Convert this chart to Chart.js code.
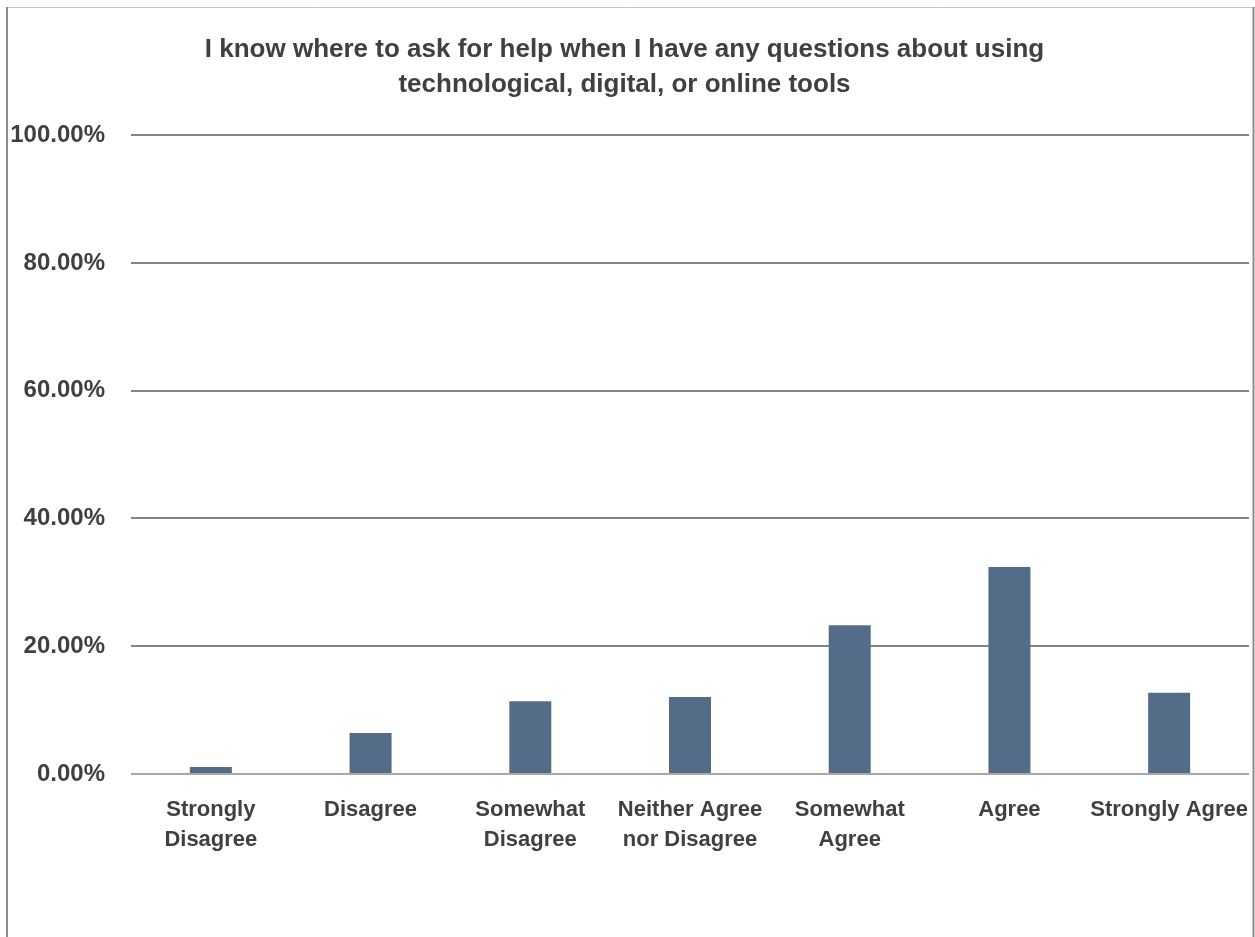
<!DOCTYPE html>
<html>
<head>
<meta charset="utf-8">
<script src="https://cdn.jsdelivr.net/npm/chart.js@4"></script>
<style>
  html, body { margin: 0; padding: 0; background: #fff; }
  #wrap { width: 1255px; height: 937px; position: relative; }
</style>
</head>
<body>
<div id="wrap"><canvas id="chart"></canvas></div>
<script>
// chart data
const categories = [
  ['Strongly', 'Disagree'],
  'Disagree',
  ['Somewhat', 'Disagree'],
  ['Neither Agree', 'nor Disagree'],
  ['Somewhat', 'Agree'],
  'Agree',
  'Strongly Agree'
];
const percents = [1.1, 6.4, 11.4, 12.05, 23.3, 32.4, 12.7];
const yTicks = [0, 20, 40, 60, 80, 100];
const titleLines = [
  'I know where to ask for help when I have any questions about using',
  'technological, digital, or online tools'
];

const FONT = '"Liberation Sans", Arial, sans-serif';
const TEXT = '#404040';

// outer frame like the exported chart box
const framePlugin = {
  id: 'frame',
  beforeDraw(chart) {
    const c = chart.ctx;
    c.save();
    c.fillStyle = '#fff';
    c.fillRect(0, 0, chart.width, chart.height);
    c.strokeStyle = '#c4c4c4';
    c.lineWidth = 1;
    c.beginPath();
    c.moveTo(7, 7.5); c.lineTo(1254, 7.5);
    c.stroke();
    c.strokeStyle = '#8c8c8c';
    c.lineWidth = 2;
    c.beginPath();
    c.moveTo(7, 7); c.lineTo(7, chart.height);
    c.moveTo(1253.5, 7); c.lineTo(1253.5, chart.height);
    c.stroke();
    c.restore();
  }
};

const ctx = document.getElementById('chart').getContext('2d');
new Chart(ctx, {
  type: 'bar',
  data: {
    labels: categories,
    datasets: [{
      data: percents,
      backgroundColor: '#536d89',
      barPercentage: 0.263,
      categoryPercentage: 1.0
    }]
  },
  options: {
    responsive: true,
    maintainAspectRatio: false,
    animation: false,
    layout: { padding: { left: 0, right: 6, top: 0, bottom: 0 } },
    plugins: {
      legend: { display: false },
      tooltip: { enabled: false },
      title: {
        display: true,
        text: titleLines,
        color: TEXT,
        font: { family: FONT, size: 26, weight: 'bold', lineHeight: 1.35 },
        padding: { top: 32, bottom: 33 }
      }
    },
    scales: {
      x: {
        grid: { display: false, drawTicks: false },
        border: { display: false },
        ticks: {
          color: TEXT,
          font: { family: FONT, size: 22, weight: 'bold', lineHeight: 1.36 },
          padding: 21,
          maxRotation: 0,
          autoSkip: false
        },
        afterFit(s) {
          s.height = 163;
          // labels may run to the edge, like the original
          s.paddingLeft = 0;
          s.paddingRight = 0;
        }
      },
      y: {
        min: 0,
        max: 100,
        afterBuildTicks(s) { s.ticks = yTicks.map(v => ({ value: v })); },
        grid: {
          drawTicks: false,
          lineWidth: 2,
          color: c => c.tick && c.tick.value === 0 ? '#a8a8a8' : '#858585'
        },
        border: { display: false },
        ticks: {
          color: TEXT,
          font: { family: FONT, size: 24, weight: 'bold' },
          padding: 26,
          callback: v => v.toFixed(2) + '%'
        },
        afterFit(s) { s.width = 131; }
      }
    }
  },
  plugins: [framePlugin]
});
</script>
</body>
</html>
